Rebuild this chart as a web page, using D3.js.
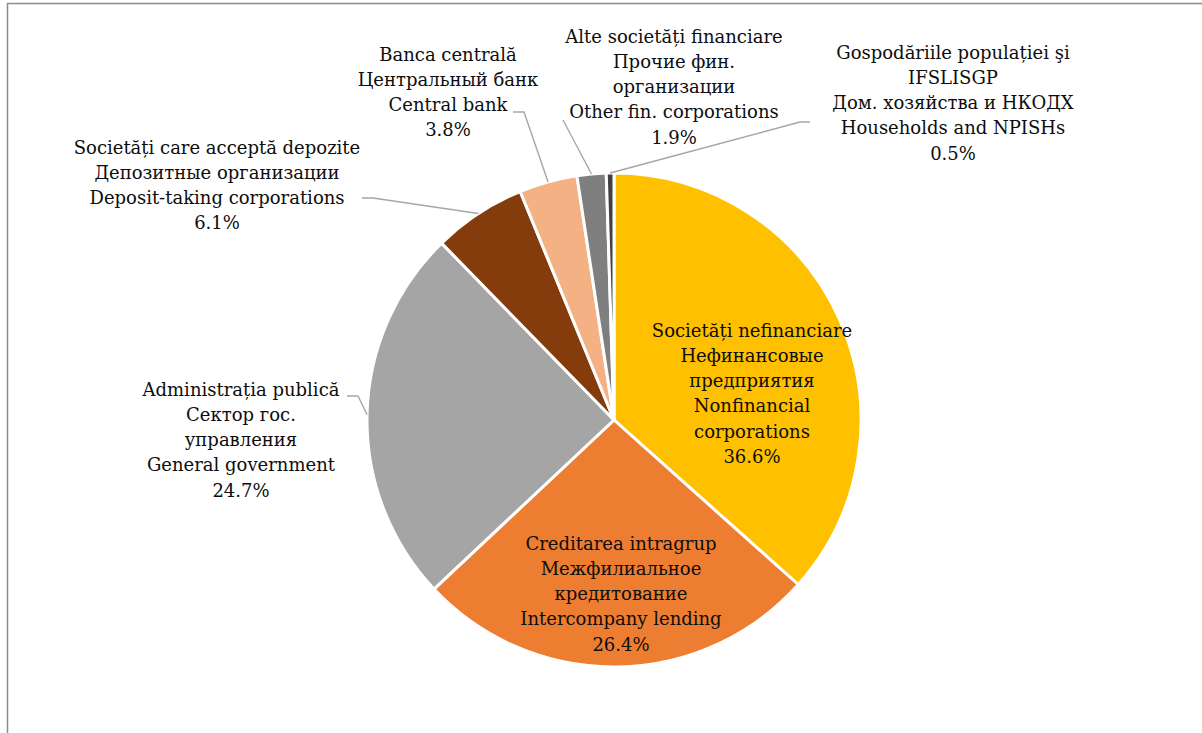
<!DOCTYPE html>
<html><head><meta charset="utf-8">
<script src="https://cdn.jsdelivr.net/npm/d3@7"></script>
<style>
body{margin:0;background:#fff;}
svg text{font-family:"DejaVu Serif",serif;font-size:18px;fill:#0d0d0d;}
</style></head>
<body><svg id="chart" width="1202" height="733"></svg>
<script>
// ---- data ----
const categories = ["nonfin","intercompany","government","deposit","centralbank","otherfin","households"];
const labelsRo = ["Societăți nefinanciare","Creditarea intragrup","Administrația publică","Societăți care acceptă depozite","Banca centrală","Alte societăți financiare","Gospodăriile populației şi IFSLISGP"];
const labelsRu = ["Нефинансовые предприятия","Межфилиальное кредитование","Сектор гос. управления","Депозитные организации","Центральный банк","Прочие фин. организации","Дом. хозяйства и НКОДХ"];
const labelsEn = ["Nonfinancial corporations","Intercompany lending","General government","Deposit-taking corporations","Central bank","Other fin. corporations","Households and NPISHs"];
const values = [36.6, 26.4, 24.7, 6.1, 3.8, 1.9, 0.5];
const colors = ["#FFC000","#ED7D31","#A5A5A5","#843C0C","#F4B183","#7F7F7F","#404040"];

// ---- label line breaking as in the reference ----
const lineBreaks = [
  [["Societăți nefinanciare"],["Нефинансовые","предприятия"],["Nonfinancial","corporations"]],
  [["Creditarea intragrup"],["Межфилиальное","кредитование"],["Intercompany lending"]],
  [["Administrația publică"],["Сектор гос.","управления"],["General government"]],
  [["Societăți care acceptă depozite"],["Депозитные организации"],["Deposit-taking corporations"]],
  [["Banca centrală"],["Центральный банк"],["Central bank"]],
  [["Alte societăți financiare"],["Прочие фин.","организации"],["Other fin. corporations"]],
  [["Gospodăriile populației şi","IFSLISGP"],["Дом. хозяйства и НКОДХ"],["Households and NPISHs"]]
];

// ---- layout ----
const W = 1202, H = 733;
const cx = 614, cy = 420, R = 247;
const lineH = 25.3;
// label block centre (x, first line y) and leader elbow (null = inside label)
const labelLayout = [
  {x:752, y:330, leader:null},
  {x:621, y:543, leader:null},
  {x:241, y:389, leader:{x1:347, x2:358, y:396}},
  {x:217, y:147, leader:{x1:362, x2:373, y:198}},
  {x:448, y:54,  leader:{x1:513, x2:524, y:112}},
  {x:674, y:36,  leader:{x1:563, x2:563, y:120}},
  {x:953, y:52,  leader:{x1:810, x2:800, y:122}}
];

const svg = d3.select("#chart");

// frame (partially outside the window, as in the reference)
svg.append("rect").attr("x",7.5).attr("y",3.5).attr("width",W+20).attr("height",H+20)
  .attr("fill","none").attr("stroke","#8c8c8c").attr("stroke-width",1.5);

const pie = d3.pie().sort(null).value(d=>d)(values);
const arc = d3.arc().innerRadius(0).outerRadius(R);
const g = svg.append("g").attr("transform",`translate(${cx},${cy})`);

g.selectAll("path.slice").data(pie).join("path")
  .attr("class","slice")
  .attr("d",arc)
  .attr("fill",(d,i)=>colors[i])
  .attr("stroke","#fff").attr("stroke-width",3).attr("stroke-linejoin","round");

// leader lines
const outerPt = d => {
  const a = (d.startAngle + d.endAngle)/2;
  return [cx + R*Math.sin(a), cy - R*Math.cos(a)];
};
pie.forEach((d,i)=>{
  const L = labelLayout[i].leader;
  if(!L) return;
  const p = outerPt(d);
  svg.append("polyline")
    .attr("points",`${L.x1},${L.y} ${L.x2},${L.y} ${p[0]},${p[1]}`)
    .attr("fill","none").attr("stroke","#a6a6a6").attr("stroke-width",1.4);
});

// labels
pie.forEach((d,i)=>{
  const lines = lineBreaks[i].flat().concat([values[i].toFixed(1)+"%"]);
  const L = labelLayout[i];
  const t = svg.append("text").attr("text-anchor","middle");
  lines.forEach((s,k)=>{
    t.append("tspan").attr("x",L.x).attr("y",L.y + k*lineH)
      .attr("dominant-baseline","central").text(s);
  });
});
</script></body></html>
